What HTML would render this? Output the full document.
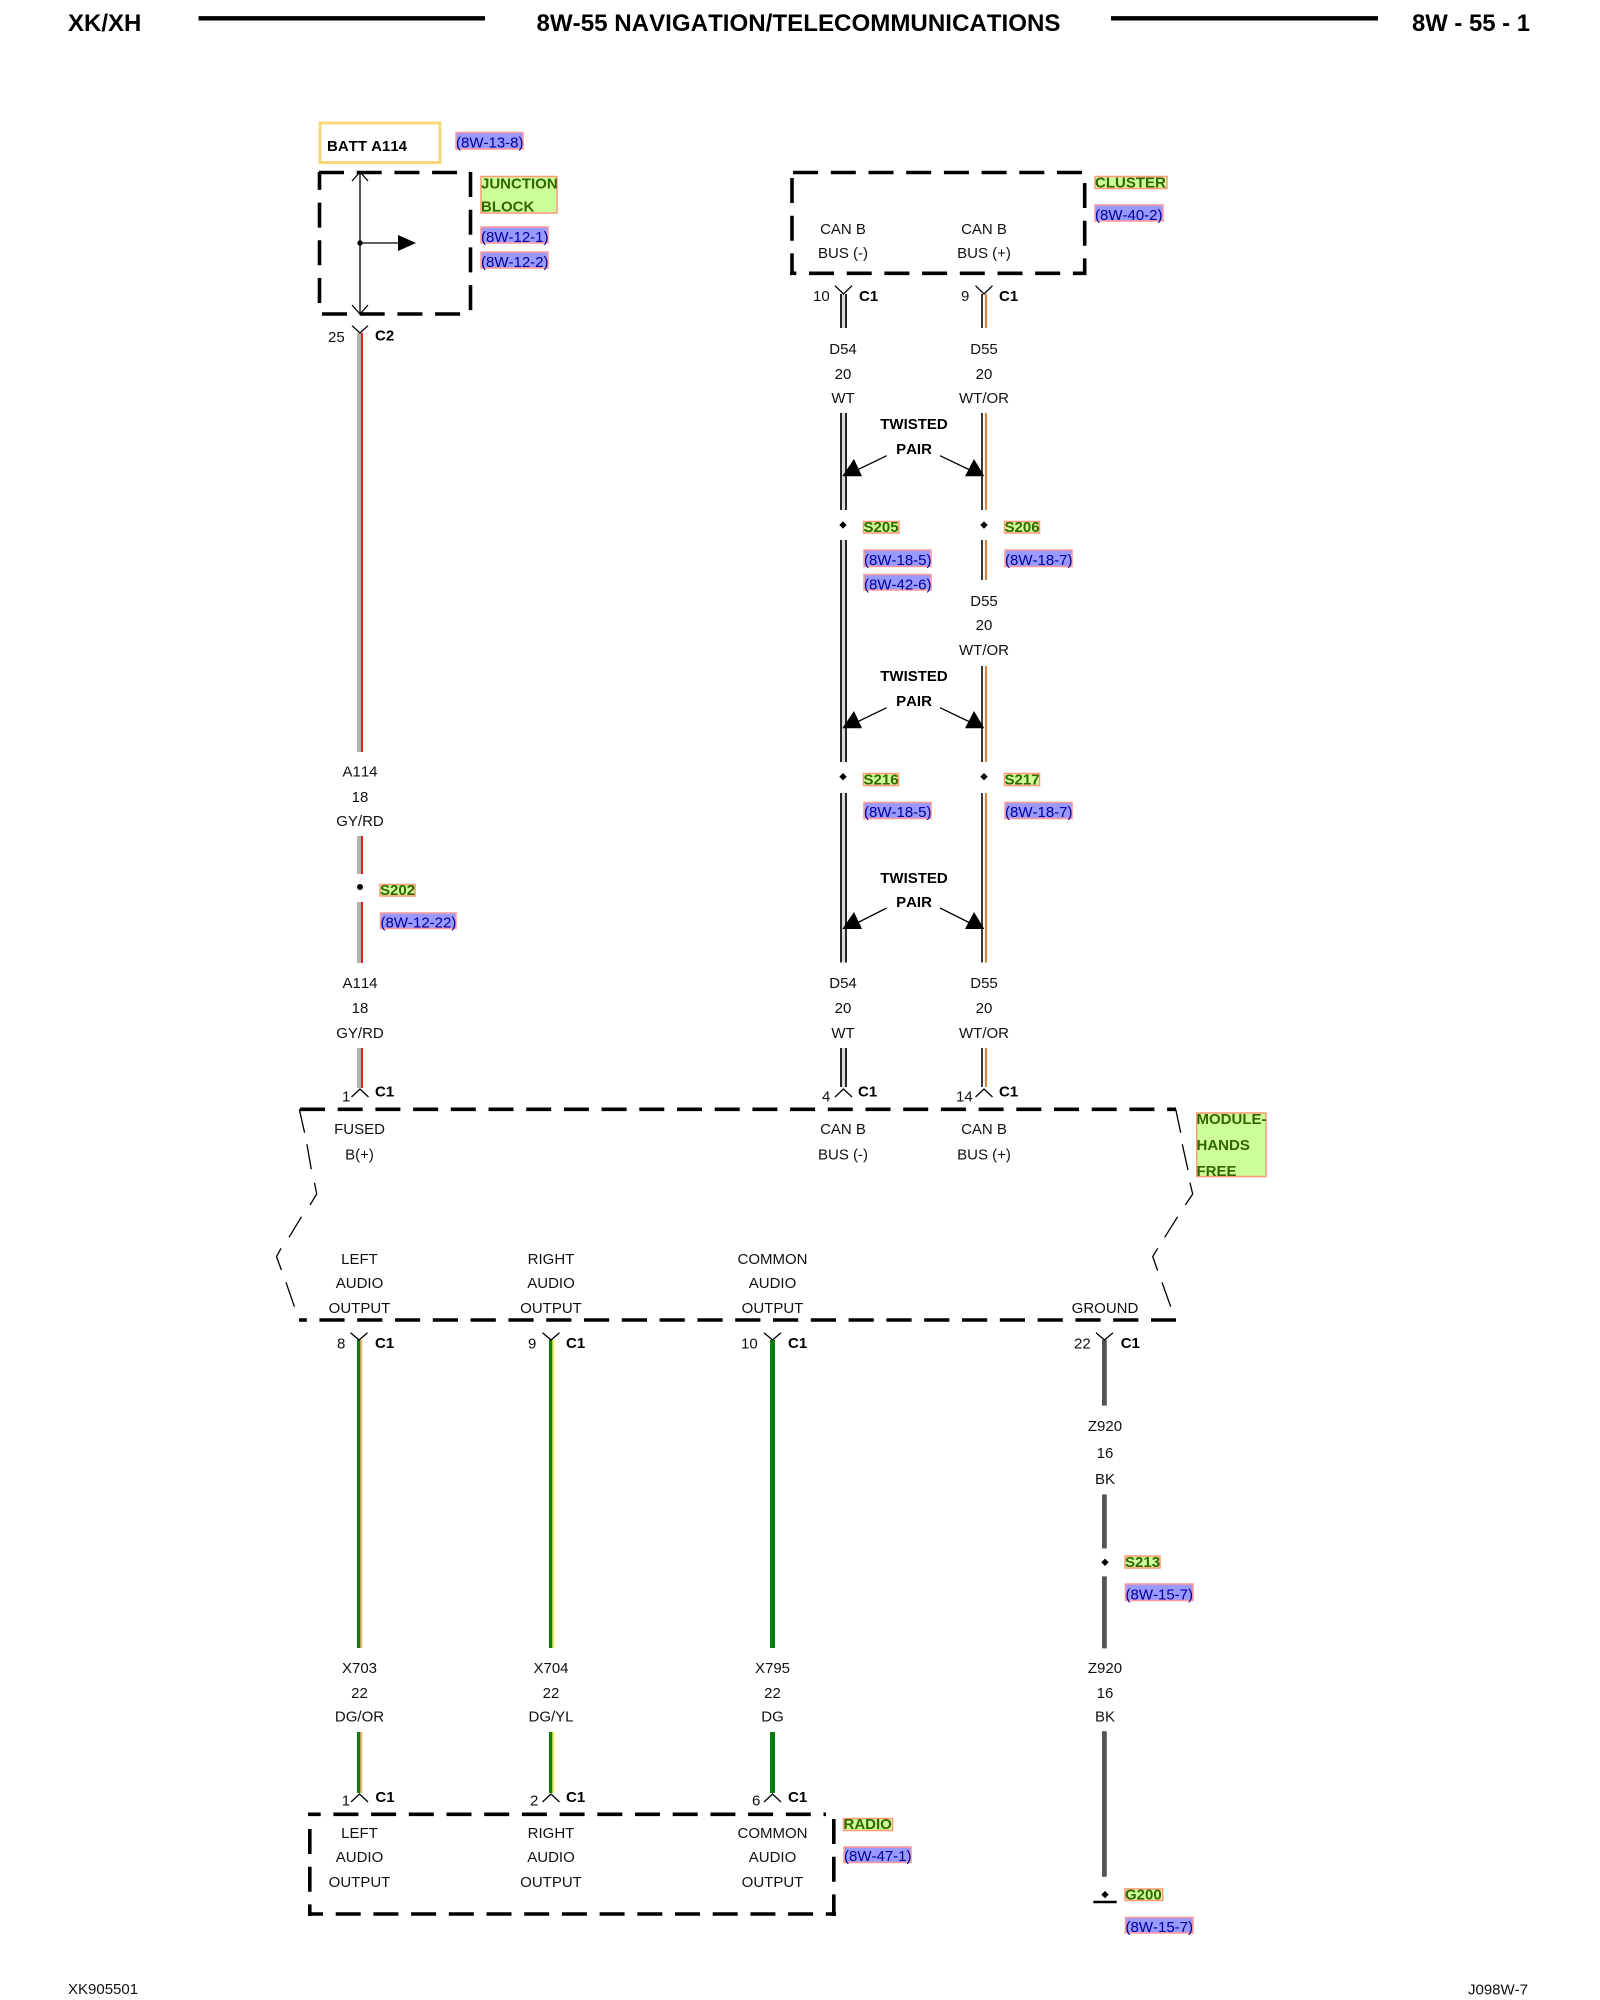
<!DOCTYPE html>
<html><head><meta charset="utf-8"><title>8W-55 Navigation/Telecommunications</title>
<style>
html,body{margin:0;padding:0;background:#fff;width:1600px;height:2000px;overflow:hidden}
svg{display:block}
text{font-family:"Liberation Sans",Arial,sans-serif;font-size:15px;fill:#111;font-kerning:none}
.c{text-anchor:middle}
.b{font-weight:bold;fill:#000}
.h{font-size:24px;font-weight:bold;fill:#000}
.rr{fill:#9999ff;stroke:#ff9999;stroke-width:1.5}
.rt{fill:#000099}
.gr{fill:#ccff99;stroke:#ff9977;stroke-width:1.5}
.gt{font-weight:bold;fill:#336600}
.d{stroke:#000;stroke-width:3.6;stroke-dasharray:25 12.7;fill:none}
.t{stroke:#000;stroke-width:1.3;fill:none}
</style></head><body>
<svg width="1600" height="2000" viewBox="0 0 1600 2000" xmlns="http://www.w3.org/2000/svg">
<rect width="1600" height="2000" fill="#fff"/>

<!-- Header -->
<text class="h" x="68" y="31">XK/XH</text>
<path d="M198.500 18.300H485M1111 18.300H1378" stroke="#000" stroke-width="4.400"/>
<text class="h" x="536.500" y="31" textLength="524" lengthAdjust="spacingAndGlyphs">8W-55 NAVIGATION/TELECOMMUNICATIONS</text>
<text class="h" x="1412" y="31" textLength="118" lengthAdjust="spacingAndGlyphs">8W - 55 - 1</text>

<!-- BATT -->
<rect x="320" y="123" width="120" height="39.500" fill="#fff" stroke="#f7d97a" stroke-width="3"/>
<text class="b" x="327" y="151">BATT A114</text>
<rect class="rr" x="456" y="132.500" width="67" height="16.500"/><text class="rt" x="456" y="147.500">(8W-13-8)</text>

<!-- Junction block -->
<path class="d" d="M319 172.500H470"/>
<path class="d" d="M470.500 172V314"/>
<path class="d" d="M322 314H470"/>
<path class="d" d="M319.500 303V172"/>
<path class="t" d="M360 172V314M352 181L360 172L368 181M352 305L360 314L368 305M360 243H400"/>
<circle cx="360" cy="243" r="2.700"/>
<path d="M398 235L416 243L398 251Z"/>
<rect class="gr" x="481" y="176.500" width="76" height="36.500"/>
<text class="gt" x="481" y="188.500">JUNCTION</text><text class="gt" x="481" y="211.500">BLOCK</text>
<rect class="rr" x="481" y="227" width="67" height="16"/><text class="rt" x="481" y="242">(8W-12-1)</text>
<rect class="rr" x="481" y="252" width="67" height="16"/><text class="rt" x="481" y="267">(8W-12-2)</text>

<!-- Cluster -->
<path class="d" d="M1082 172.500H792"/>
<path class="d" d="M1084.700 183V275"/>
<path class="d" style="stroke-dashoffset:18.700" d="M790 273.300H1086"/>
<path class="d" d="M792 178V275"/>
<text class="c" x="843" y="234">CAN B</text><text class="c" x="843" y="258">BUS (-)</text>
<text class="c" x="984" y="234">CAN B</text><text class="c" x="984" y="258">BUS (+)</text>
<rect class="gr" x="1095" y="176.500" width="72" height="12"/><text class="gt" x="1095" y="187.500">CLUSTER</text>
<rect class="rr" x="1095" y="205" width="68" height="16"/><text class="rt" x="1095" y="220">(8W-40-2)</text>

<!-- A114 wire -->
<g>
<path d="M359 333V752M359 836V874M359 902V963M359 1048V1088" stroke="#b3b3b3" stroke-width="4"/>
<path d="M362 333V752M362 836V874M362 902V963M362 1048V1088" stroke="#f01c1c" stroke-width="2"/>
</g>
<path class="t" d="M352 325.700L360 333L368 325.700"/>
<text x="328" y="342">25</text><text class="b" x="375" y="340.500">C2</text>
<text class="c" x="360" y="776.700">A114</text><text class="c" x="360" y="802">18</text><text class="c" x="360" y="826">GY/RD</text>
<circle cx="360" cy="887" r="3"/>
<rect class="gr" x="380" y="884.500" width="35" height="11.500"/><text class="gt" x="380" y="895">S202</text>
<rect class="rr" x="380.500" y="913" width="75.500" height="15.500"/><text class="rt" x="380.500" y="927.700">(8W-12-22)</text>
<text class="c" x="360" y="988">A114</text><text class="c" x="360" y="1013">18</text><text class="c" x="360" y="1038">GY/RD</text>

<!-- D54 -->
<g transform="translate(843.500,0)">
<path d="M0 294V328M0 413V510M0 540V762M0 793V962.500M0 1048V1087" stroke="#dcdcdc" stroke-width="4"/>
<path d="M-2.500 294V328M-2.500 413V510M-2.500 540V762M-2.500 793V962.500M-2.500 1048V1087M2.500 294V328M2.500 413V510M2.500 540V762M2.500 793V962.500M2.500 1048V1087" stroke="#111" stroke-width="1.800"/>
</g>
<!-- D55 -->
<path d="M982 294V328M982 413V510M982 540V580M982 666V762M982 793V962.500M982 1048V1087" stroke="#222" stroke-width="1.800"/>
<path d="M986 294V328M986 413V510M986 540V580M986 666V762M986 793V962.500M986 1048V1087" stroke="#d08540" stroke-width="2.200"/>

<path class="t" d="M835 285.700L843.500 294L852 285.700M975.500 285.700L984 294L992.500 285.700"/>
<text x="813" y="301">10</text><text class="b" x="859" y="301">C1</text>
<text x="961" y="301">9</text><text class="b" x="999" y="301">C1</text>
<text class="c" x="843" y="354">D54</text><text class="c" x="843" y="379">20</text><text class="c" x="843" y="403">WT</text>
<text class="c" x="984" y="354">D55</text><text class="c" x="984" y="379">20</text><text class="c" x="984" y="403">WT/OR</text>

<!-- Twisted pair 1 -->
<g transform="translate(0,-252)">
<text class="b c" x="914" y="681">TWISTED</text><text class="b c" x="914" y="706">PAIR</text>
<path class="t" d="M886.700 707.700L855 723M940 707.700L972 723"/>
<path d="M842.300 728.300H862L854 711ZM965 728.300H984.300L974 711Z"/>
</g>
<!-- Twisted pair 2 -->
<g>
<text class="b c" x="914" y="681">TWISTED</text><text class="b c" x="914" y="706">PAIR</text>
<path class="t" d="M886.700 707.700L855 723M940 707.700L972 723"/>
<path d="M842.300 728.300H862L854 711ZM965 728.300H984.300L974 711Z"/>
</g>
<!-- Twisted pair 3 -->
<g transform="translate(0,202)">
<text class="b c" x="914" y="681">TWISTED</text><text class="b c" x="914" y="705">PAIR</text>
<path class="t" d="M886.700 706L855 722M940 706L972 722"/>
<path d="M842.300 727H862L854 710ZM965 727H984.300L974 710Z"/>
</g>

<!-- Splices -->
<path d="M839.300 525L843 521.300L846.700 525L843 528.700ZM980.300 525L984 521.300L987.700 525L984 528.700ZM839.300 776.700L843 773L846.700 776.700L843 780.400ZM980.300 776.700L984 773L987.700 776.700L984 780.400Z"/>
<rect class="gr" x="863.500" y="521.500" width="35.500" height="11.500"/><text class="gt" x="863.500" y="532">S205</text>
<rect class="gr" x="1004.500" y="521.500" width="35" height="11.500"/><text class="gt" x="1004.500" y="532">S206</text>
<rect class="rr" x="864" y="550" width="67" height="16.500"/><text class="rt" x="864" y="565">(8W-18-5)</text>
<rect class="rr" x="864" y="574.500" width="67" height="15.500"/><text class="rt" x="864" y="589.300">(8W-42-6)</text>
<rect class="rr" x="1005" y="550" width="67" height="16.500"/><text class="rt" x="1005" y="565">(8W-18-7)</text>
<text class="c" x="984" y="606">D55</text><text class="c" x="984" y="630">20</text><text class="c" x="984" y="655">WT/OR</text>
<rect class="gr" x="863.500" y="773.500" width="35" height="12"/><text class="gt" x="863.500" y="784.500">S216</text>
<rect class="gr" x="1004.500" y="773.500" width="35" height="12"/><text class="gt" x="1004.500" y="784.500">S217</text>
<rect class="rr" x="864" y="802.500" width="67" height="16"/><text class="rt" x="864" y="817">(8W-18-5)</text>
<rect class="rr" x="1005" y="802.500" width="67" height="16"/><text class="rt" x="1005" y="817">(8W-18-7)</text>
<text class="c" x="843" y="988">D54</text><text class="c" x="843" y="1013">20</text><text class="c" x="843" y="1038">WT</text>
<text class="c" x="984" y="988">D55</text><text class="c" x="984" y="1013">20</text><text class="c" x="984" y="1038">WT/OR</text>

<!-- Module connectors top -->
<path class="t" d="M351.500 1097L360 1089L368.500 1097M835 1097L843.500 1089L852 1097M975.500 1097L984 1089L992.500 1097"/>
<text x="342" y="1101.700">1</text><text class="b" x="375" y="1096.700">C1</text>
<text x="822" y="1101.700">4</text><text class="b" x="858" y="1096.700">C1</text>
<text x="956" y="1101.700">14</text><text class="b" x="999" y="1096.700">C1</text>

<!-- Module -->
<path class="d" d="M300 1109.300H1176"/>
<path class="d" style="stroke-dasharray:25.200 12.600;stroke-dashoffset:17.400" d="M299 1320H1176"/>
<path class="t" d="M299.300 1109.300L304.600 1132.700M306.900 1144.300L311.300 1169.300M314.500 1182.700L316.700 1194L310 1205M301.500 1216.700L289 1237.300M281 1248.300L276.500 1256.700L281.400 1270M286 1282.300L294.400 1306.700"/>
<path class="t" d="M1175.700 1109.300L1180.700 1132.700M1182.300 1144.300L1188 1170M1190 1182.700L1192.700 1194L1185.300 1205M1177.700 1216.700L1164.700 1237.300M1157.700 1248.300L1152.700 1256.700L1157.700 1270.700M1162 1282.300L1170.700 1306.700"/>
<text class="c" x="359.500" y="1134">FUSED</text><text class="c" x="359.500" y="1159.300">B(+)</text>
<text class="c" x="843" y="1134">CAN B</text><text class="c" x="843" y="1159.300">BUS (-)</text>
<text class="c" x="984" y="1134">CAN B</text><text class="c" x="984" y="1159.300">BUS (+)</text>
<text class="c" x="359.500" y="1264">LEFT</text><text class="c" x="359.500" y="1288">AUDIO</text><text class="c" x="359.500" y="1313">OUTPUT</text>
<text class="c" x="551" y="1264">RIGHT</text><text class="c" x="551" y="1288">AUDIO</text><text class="c" x="551" y="1313">OUTPUT</text>
<text class="c" x="772.500" y="1264">COMMON</text><text class="c" x="772.500" y="1288">AUDIO</text><text class="c" x="772.500" y="1313">OUTPUT</text>
<text class="c" x="1105" y="1313">GROUND</text>
<rect class="gr" x="1196.700" y="1113" width="69.300" height="63.500"/>
<text class="gt" x="1196.500" y="1124">MODULE-</text><text class="gt" x="1196.500" y="1150">HANDS</text><text class="gt" x="1196.500" y="1176">FREE</text>

<!-- Lower wires -->
<path d="M358.700 1340V1648M358.700 1732V1793" stroke="#0a7d0a" stroke-width="3.400"/>
<path d="M361.400 1340V1648M361.400 1732V1793" stroke="#f8b878" stroke-width="2"/>
<path d="M550.700 1340V1648M550.700 1732V1793" stroke="#0a7d0a" stroke-width="3.400"/>
<path d="M553.400 1340V1648M553.400 1732V1793" stroke="#f4f455" stroke-width="2"/>
<path d="M772.500 1340V1648M772.500 1732V1793" stroke="#0a7d0a" stroke-width="5"/>
<path d="M1104.400 1340V1405.600M1104.400 1494.400V1548.500M1104.400 1576.400V1648.400M1104.400 1731.300V1876.700" stroke="#555" stroke-width="4.800"/>

<path class="t" d="M350.500 1332.700L359 1340L367.500 1332.700M542.500 1332.700L551 1340L559.500 1332.700M764 1332.700L772.500 1340L781 1332.700M1096 1332.700L1104.500 1340L1113 1332.700"/>
<text x="337" y="1348.700">8</text><text class="b" x="375" y="1348">C1</text>
<text x="528" y="1348.700">9</text><text class="b" x="566" y="1348">C1</text>
<text x="741" y="1348.700">10</text><text class="b" x="788" y="1348">C1</text>
<text x="1074" y="1348.700">22</text><text class="b" x="1120.700" y="1348">C1</text>

<text class="c" x="1105" y="1431">Z920</text><text class="c" x="1105" y="1458">16</text><text class="c" x="1105" y="1484">BK</text>
<path d="M1101.300 1562.300L1105 1558.600L1108.700 1562.300L1105 1566Z"/>
<rect class="gr" x="1125" y="1556" width="35" height="12"/><text class="gt" x="1125" y="1566.800">S213</text>
<rect class="rr" x="1125.500" y="1584" width="67.500" height="16.500"/><text class="rt" x="1125.500" y="1599.500">(8W-15-7)</text>

<text class="c" x="359.500" y="1672.800">X703</text><text class="c" x="359.500" y="1698">22</text><text class="c" x="359.500" y="1721.500">DG/OR</text>
<text class="c" x="551" y="1672.800">X704</text><text class="c" x="551" y="1698">22</text><text class="c" x="551" y="1721.500">DG/YL</text>
<text class="c" x="772.500" y="1672.800">X795</text><text class="c" x="772.500" y="1698">22</text><text class="c" x="772.500" y="1721.500">DG</text>
<text class="c" x="1105" y="1672.800">Z920</text><text class="c" x="1105" y="1698">16</text><text class="c" x="1105" y="1721.500">BK</text>

<path d="M1101.300 1894.600L1105 1890.900L1108.700 1894.600L1105 1898.300Z"/>
<path d="M1093.300 1902H1116.700" stroke="#000" stroke-width="2.600"/>
<rect class="gr" x="1125" y="1889" width="37.700" height="11.500"/><text class="gt" x="1125" y="1899.500">G200</text>
<rect class="rr" x="1125.500" y="1917.500" width="67.500" height="15.500"/><text class="rt" x="1125.500" y="1931.800">(8W-15-7)</text>

<!-- Radio -->
<path class="t" d="M351 1802L359.500 1794L368 1802M542.500 1802L551 1794L559.500 1802M764 1802L772.500 1794L781 1802"/>
<text x="341.800" y="1805.700">1</text><text class="b" x="375.400" y="1802">C1</text>
<text x="530" y="1805.700">2</text><text class="b" x="566" y="1802">C1</text>
<text x="752" y="1805.700">6</text><text class="b" x="788" y="1802">C1</text>
<path class="d" style="stroke-dashoffset:12.300" d="M308 1814.300H826"/>
<path class="d" d="M833.800 1819V1916"/>
<path class="d" style="stroke-dashoffset:10" d="M308 1914H836"/>
<path class="d" d="M309.800 1829V1916"/>
<text class="c" x="359.500" y="1838">LEFT</text><text class="c" x="359.500" y="1862">AUDIO</text><text class="c" x="359.500" y="1887">OUTPUT</text>
<text class="c" x="551" y="1838">RIGHT</text><text class="c" x="551" y="1862">AUDIO</text><text class="c" x="551" y="1887">OUTPUT</text>
<text class="c" x="772.500" y="1838">COMMON</text><text class="c" x="772.500" y="1862">AUDIO</text><text class="c" x="772.500" y="1887">OUTPUT</text>
<rect class="gr" x="843.500" y="1818.500" width="49" height="12"/><text class="gt" x="843.500" y="1829">RADIO</text>
<rect class="rr" x="844" y="1847" width="67" height="15.500"/><text class="rt" x="844" y="1861">(8W-47-1)</text>

<!-- Footer -->
<text x="68" y="1994">XK905501</text>
<text x="1468" y="1994.400">J098W-7</text>
</svg>
</body></html>
